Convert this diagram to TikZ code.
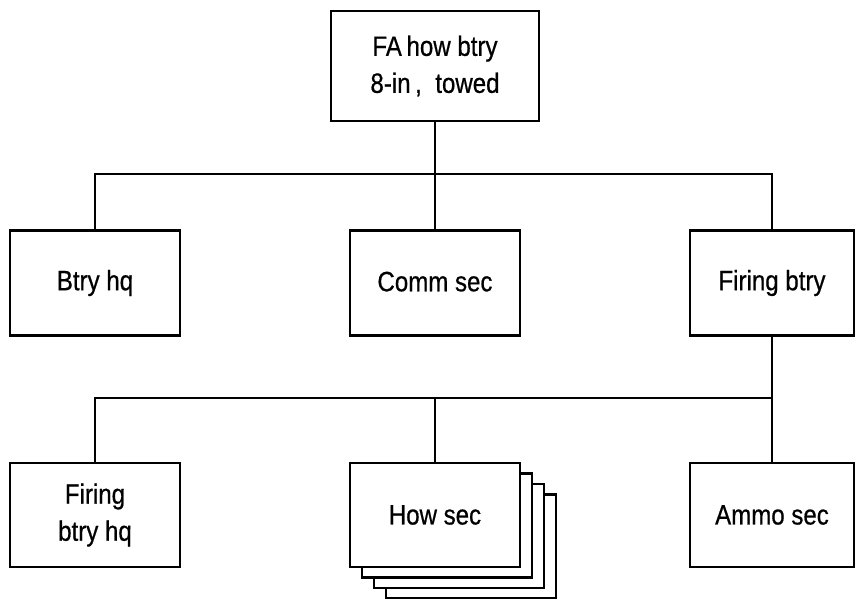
\documentclass[tikz,border=0pt]{standalone}
\usepackage{fontspec}
\setmainfont{Liberation Sans}[FakeStretch=0.86,FakeBold=0.6]
\usepackage{tikz}
\usetikzlibrary{positioning,calc}

\begin{document}
\begin{tikzpicture}[x=1pt,y=-1pt,line width=2.4pt,
	unit/.style={draw,fill=white,inner sep=0pt,align=center,
		minimum width=170pt,minimum height=105pt,
		font=\fontsize{28}{37}\selectfont},
	link/.style={line width=2.2pt}]
	\useasboundingbox (0,0) rectangle (855,599);
	%% sommet
	\node[unit,minimum width=208pt,minimum height=110pt] (fa) at (435,66) {FA\,how btry\\8-in\,,\ \ towed};
	
	%% niveau 2
	\node[unit] (bh) at (95,283) {\raisebox{3pt}{Btry hq}};
	\node[unit] (cs) at (435,283) {\raisebox{3pt}{Comm sec}};
	\node[unit,minimum width=164pt] (fb) at (772,283) {\raisebox{3pt}{Firing btry}};
	
	%% niveau 3 -- pile des sections
	\node[unit,minimum height=104pt] (hs3) at (471,546.5) {};
	\node[unit,minimum height=104pt] (hs2) at (459,536) {};
	\node[unit,minimum height=104pt] (hs1) at (447,525.5) {};
	\node[unit,minimum height=104pt] (fbh) at (95,515) {Firing\\btry hq};
	\node[unit,minimum height=104pt] (hs) at (435,515) {How sec};
	\node[unit,minimum width=164pt,minimum height=104pt] (am) at (772,515) {Ammo sec};
	
	%% liaisons
	\coordinate (j1) at (435,174);
	\coordinate (j2) at (772,398);
	\draw[link] (fa.south) -- (cs.north);
	\draw[link] (bh.north) |- (j1) -| (fb.north);
	\draw[link] (fb.south) -- (am.north);
	\draw[link] (fbh.north) |- (j2);
	\draw[link] (hs.north) -- (hs.north |- j2);
\end{tikzpicture}
\end{document}
